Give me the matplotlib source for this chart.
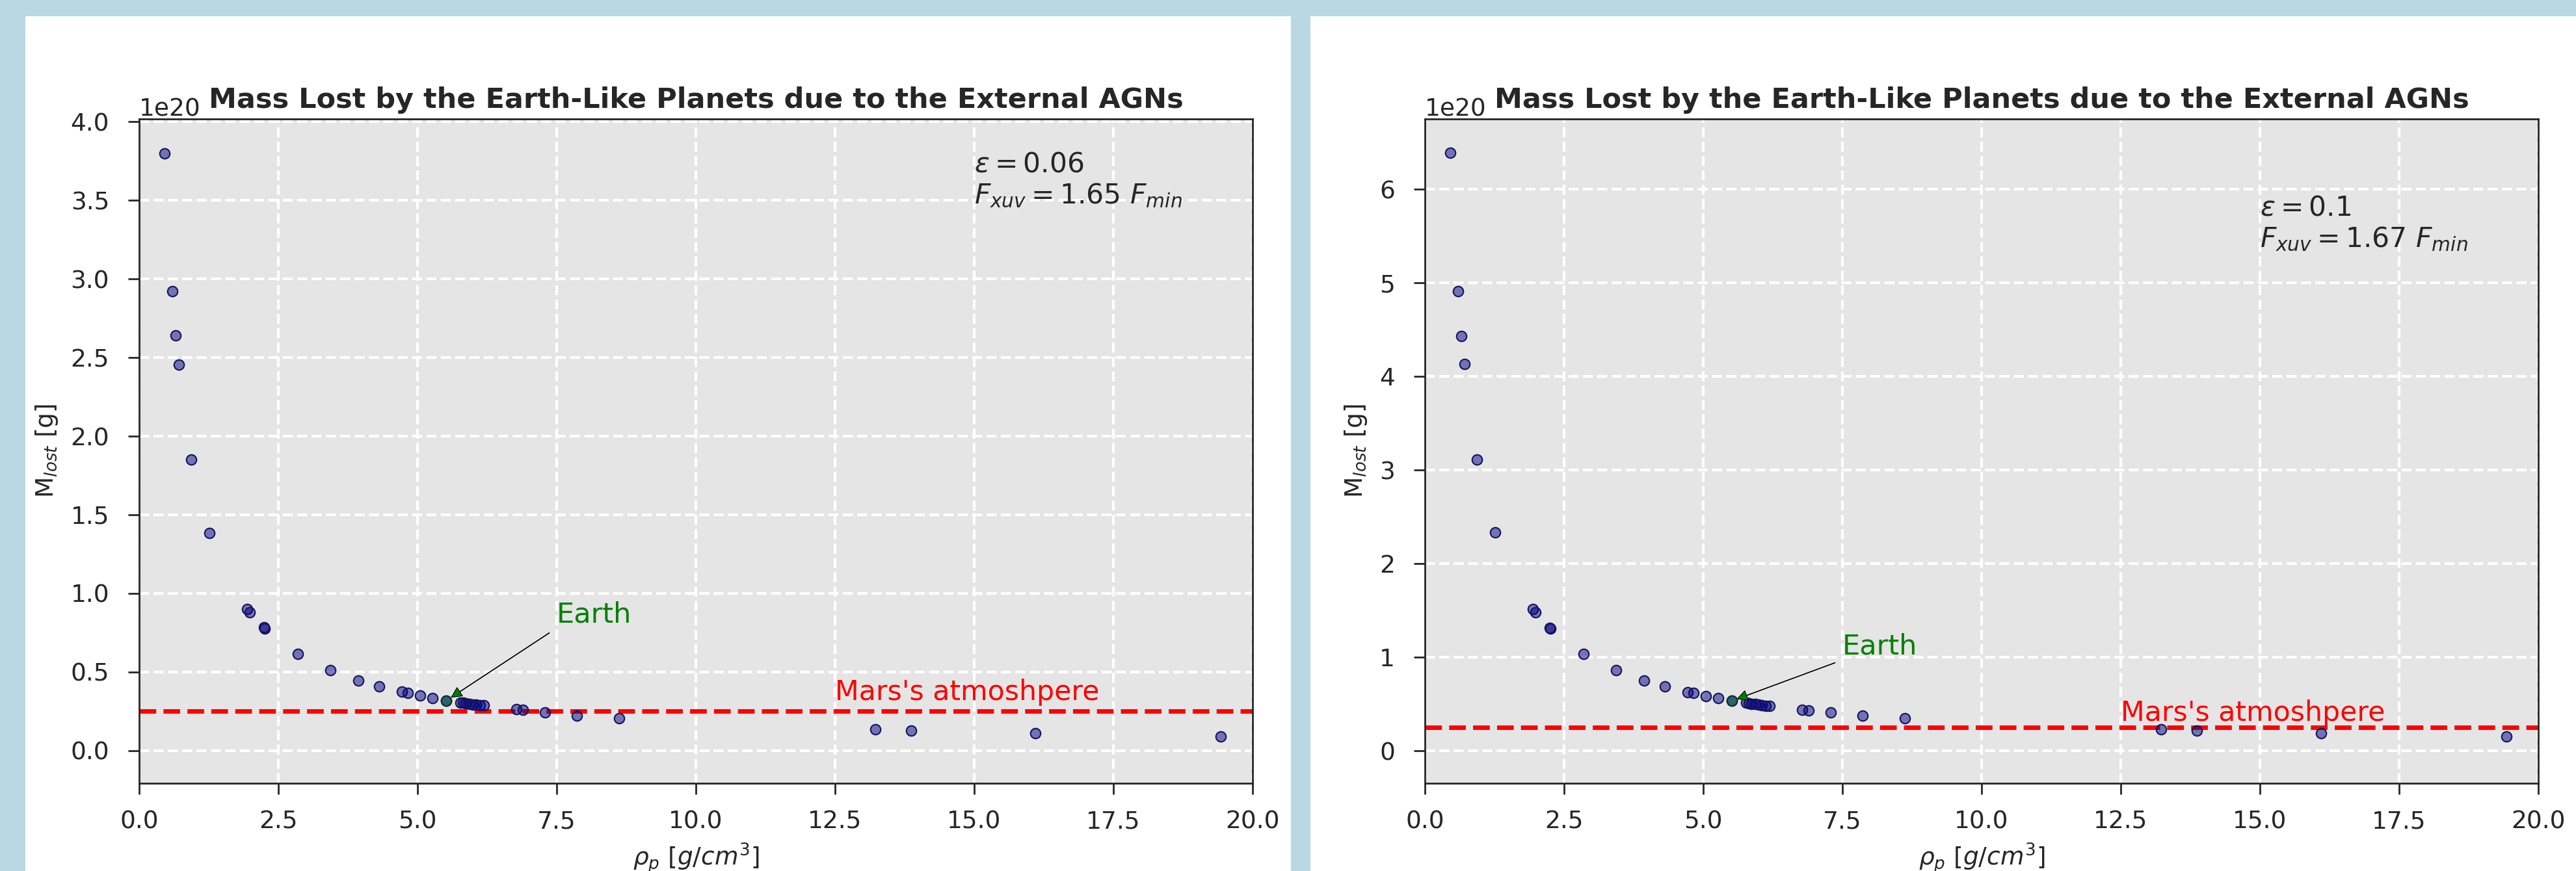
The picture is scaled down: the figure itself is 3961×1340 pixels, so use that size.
import numpy as np
import matplotlib.pyplot as plt
from matplotlib.patches import Rectangle
from matplotlib.ticker import MultipleLocator

# Densidade dos planetas [g/cm^3]
rho = [0.46, 0.60, 0.66, 0.71, 0.94, 1.26, 1.94, 1.99, 2.24, 2.25,
       2.85, 3.44, 3.94, 4.31, 4.72, 4.83, 5.05, 5.27, 5.51, 5.77,
       5.82, 5.87, 5.93, 5.99, 6.05, 6.12, 6.19, 6.78, 6.89, 7.29,
       7.86, 8.62, 13.22, 13.87, 16.10, 19.43]

# Massa perdida [1e20 g] para eps = 0.06
mass_eps006 = [3.80, 2.92, 2.64, 2.455, 1.85, 1.386, 0.902, 0.878, 0.785, 0.775,
               0.616, 0.511, 0.447, 0.408, 0.374, 0.366, 0.349, 0.335, 0.317, 0.307,
               0.304, 0.301, 0.298, 0.295, 0.292, 0.289, 0.287, 0.264, 0.260, 0.245,
               0.224, 0.207, 0.135, 0.128, 0.111, 0.092]

# Massa perdida [1e20 g] para eps = 0.1
mass_eps01 = [6.39, 4.91, 4.43, 4.13, 3.11, 2.33, 1.516, 1.476, 1.315, 1.305,
              1.035, 0.858, 0.751, 0.685, 0.628, 0.615, 0.586, 0.563, 0.532, 0.512,
              0.507, 0.502, 0.497, 0.492, 0.487, 0.482, 0.478, 0.439, 0.430, 0.410,
              0.376, 0.345, 0.226, 0.215, 0.186, 0.155]

earth_rho = 5.51
mars_atm = 0.25e20

W, H = 3961, 1340
TXT = '#262626'


# Desenha um painel
def panel(fig, left, masses, eps, fxuv, ylim, text_y, ystep):
    masses = np.array(masses) * 1e20
    ax = fig.add_axes([left / W, 135 / H, 1712 / W, 1022 / H])
    ax.set_facecolor('#e5e5e5')
    ax.set_axisbelow(True)
    ax.grid(True, color='white', linestyle='--', linewidth=3)

    ax.scatter(rho, masses, s=125, facecolor=(0, 0, 0.545, 0.5),
               edgecolor='#14145a', linewidth=1.5, zorder=3)
    earth_mass = masses[rho.index(earth_rho)]
    ax.scatter([earth_rho], [earth_mass], s=125, facecolor=(0, 0.35, 0.2, 0.6),
               edgecolor='#0b2f3a', linewidth=1.5, zorder=4)

    ax.axhline(mars_atm, color='red', linestyle='--', linewidth=5, zorder=2)
    ax.text(12.5, 0.32e20, "Mars's atmoshpere", color='red', fontsize=30.7)

    ax.annotate('Earth', xy=(earth_rho, earth_mass), xytext=(7.5, earth_mass + 0.5e20),
                color='green', fontsize=31,
                arrowprops=dict(facecolor='green', edgecolor='black', width=0.3,
                                headwidth=11, headlength=11, shrink=0.05, lw=0.8))

    # va='baseline' fica na linha de baixo
    ax.text(15, text_y, r'$\epsilon = %s$' % eps + '\n' + r'$F_{xuv} = %s\ F_{min}$' % fxuv,
            fontsize=30.5, color=TXT, va='baseline')

    ax.set_xlim(0, 20)
    ax.set_ylim(ylim)
    ax.xaxis.set_major_locator(MultipleLocator(2.5))
    ax.yaxis.set_major_locator(MultipleLocator(ystep))
    ax.tick_params(direction='out', length=12, width=2, colors=TXT, labelsize=27,
                   top=False, right=False)
    ax.tick_params(axis='x', pad=18)
    ax.tick_params(axis='y', pad=21)
    ax.yaxis.get_offset_text().set_fontsize(27)
    ax.yaxis.get_offset_text().set_color(TXT)
    for s in ax.spines.values():
        s.set_color(TXT)
        s.set_linewidth(2)

    ax.set_title('Mass Lost by the Earth-Like Planets due to the External AGNs',
                 fontsize=31, fontweight='bold', color=TXT, pad=12)
    ax.set_xlabel(r'$\rho_p$ [$g/cm^3$]', fontsize=27, color=TXT, labelpad=8)
    ax.set_ylabel(r'M$_{lost}$ [g]', fontsize=27, color=TXT, labelpad=12)
    return ax


def main():
    fig = plt.figure(figsize=(W / 100, H / 100), dpi=100, facecolor='#bad7e4')
    fig.add_artist(Rectangle((39 / W, 0), 1946 / W, 1315 / H, transform=fig.transFigure,
                             facecolor='white', edgecolor='none', zorder=0))
    fig.add_artist(Rectangle((2015 / W, 0), 1946 / W, 1315 / H, transform=fig.transFigure,
                             facecolor='white', edgecolor='none', zorder=0))

    panel(fig, 214, mass_eps006, '0.06', '1.65', (-0.207e20, 4.017e20), 3.48e20, 0.5e20)
    panel(fig, 2191, mass_eps01, '0.1', '1.67', (-0.347e20, 6.75e20), 5.38e20, 1e20)

    fig.savefig('out.png', dpi=100, facecolor=fig.get_facecolor())


if __name__ == "__main__":
    main()
